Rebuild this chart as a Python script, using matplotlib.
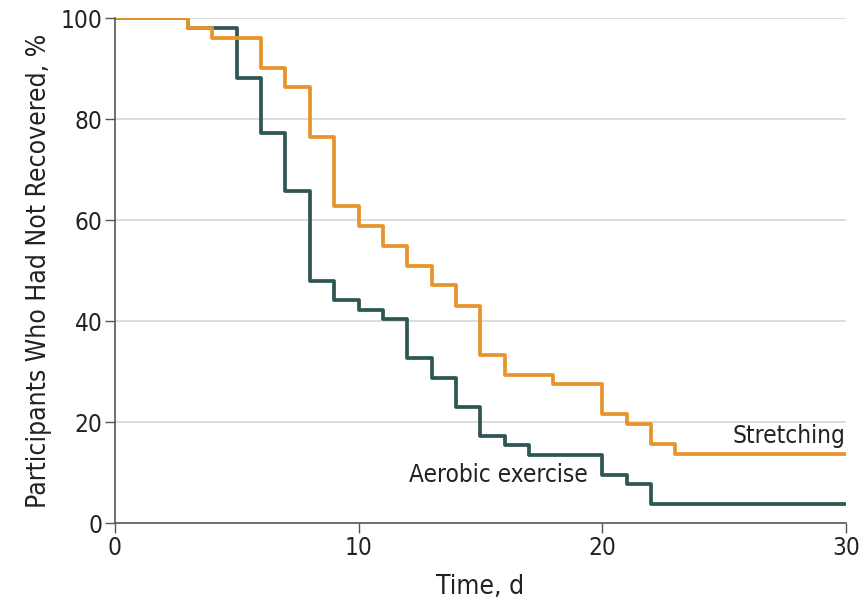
import matplotlib
matplotlib.use("Agg")
from matplotlib import pyplot as plt

plt.rcParams['font.family'] = ['DejaVu Sans']
plt.rcParams['font.stretch'] = 'condensed'

# Kaplan-Meier style step data (day, % not recovered)
stretch_days = [0, 3, 4, 6, 7, 8, 9, 10, 11, 12, 13, 14, 15, 16, 18, 20, 21, 22, 23, 30]
stretch_pct = [100, 98, 96.1, 90.2, 86.3, 76.5, 62.8, 58.8, 54.9, 51.0, 47.1, 43.1,
               33.3, 29.4, 27.5, 21.6, 19.6, 15.7, 13.7, 13.7]

aerobic_days = [0, 3, 5, 6, 7, 8, 9, 10, 11, 12, 13, 14, 15, 16, 17, 20, 21, 22, 30]
aerobic_pct = [100, 98, 88.2, 77.3, 65.7, 47.9, 44.3, 42.3, 40.4, 32.7, 28.8, 23.1,
               17.3, 15.4, 13.5, 9.6, 7.7, 3.8, 3.8]

x_ticks = [0, 10, 20, 30]
y_ticks = [0, 20, 40, 60, 80, 100]

orange = "#E8942C"
teal = "#2E5753"


def showPlot():
    fig = plt.figure(figsize=(8.64, 6.07), dpi=100)
    ax = fig.add_axes([0.133, 0.138, 0.846, 0.832])

    for y in y_ticks[1:]:
        ax.axhline(y, color="#d9d9d9", lw=1.3, zorder=0)

    ax.step(aerobic_days, aerobic_pct, where="post", color=teal, lw=2.7)
    ax.step(stretch_days, stretch_pct, where="post", color=orange, lw=2.7)

    ax.text(30, 15.8, "Stretching", ha="right", va="baseline", fontsize=17.5, color="#222222")
    ax.text(19.4, 8.1, "Aerobic exercise", ha="right", va="baseline", fontsize=17.5, color="#222222")

    ax.set_xlim(0, 30)
    ax.set_ylim(0, 100)
    ax.set_xticks(x_ticks)
    ax.set_yticks(y_ticks)
    ax.tick_params(labelsize=17.5, labelcolor="#222222", length=7, width=1,
                   direction="out", color="#555555", pad=2)

    for s in ["top", "right"]:
        ax.spines[s].set_visible(False)
    for s in ["left", "bottom"]:
        ax.spines[s].set_color("#555555")
        ax.spines[s].set_linewidth(1.2)

    ax.set_xlabel("Time, d", fontsize=19, color="#222222", labelpad=10)
    ax.set_ylabel("Participants Who Had Not Recovered, %", fontsize=19, color="#222222", labelpad=6)

    fig.savefig("out.png", dpi=100)


def main():
    showPlot()


if __name__ == '__main__':
    main()
